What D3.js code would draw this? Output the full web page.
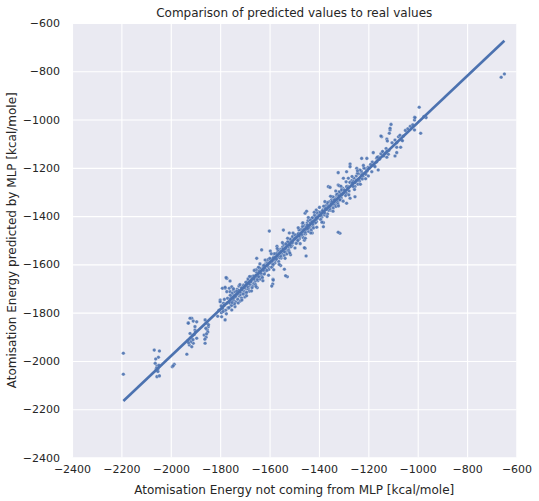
<!DOCTYPE html>
<html>
<head>
<meta charset="utf-8">
<script src="https://cdn.jsdelivr.net/npm/d3@7"></script>
<style>
  html, body { margin: 0; padding: 0; background: #ffffff; }
  svg { display: block; font-family: "DejaVu Sans", sans-serif; }
</style>
</head>
<body>
<div id="chart"></div>
<script>
// [real energy, predicted energy] pairs, grouped by region
const farOutliers = [
  [-2192,-1968],[-2192,-2055],[-662,-825],[-649,-811]
];

const cluster2050 = [
  [-2067,-1955],[-2046,-1959],[-2050,-1985],[-2061,-1992],[-2063,-2010],[-2056,-2021],
  [-2050,-2026],[-2058,-2030],[-2053,-2035],[-2048,-2018],[-2056,-2065],[-2046,-2062],
  [-2060,-2040],[-2052,-2044],[-1994,-2024],[-1986,-2014],[-1990,-2020]
];

const cluster1900 = [
  [-1929,-1842],[-1915,-1823],[-1909,-1835],[-1895,-1838],[-1922,-1886],[-1915,-1906],
  [-1909,-1927],[-1925,-1934],[-1915,-1941],[-1935,-1972],[-1902,-1872],[-1895,-1906],
  [-1930,-1915],[-1920,-1905],[-1912,-1895],[-1905,-1890],[-1918,-1920],[-1900,-1880],
  [-1928,-1925],[-1910,-1912],[-1922,-1823],[-1929,-1844],[-1902,-1858],
  [-1861,-1830],[-1854,-1844],[-1848,-1858],[-1865,-1893],[-1857,-1902],[-1861,-1927],
  [-1852,-1872],[-1858,-1865],[-1850,-1880],[-1862,-1910],[-1855,-1888],[-1847,-1850]
];

const cluster1780 = [
  [-1800,-1748],[-1787,-1761],[-1794,-1817],[-1780,-1830],[-1773,-1658],[-1780,-1699],
  [-1773,-1713],[-1760,-1713],[-1747,-1706],[-1760,-1761],[-1753,-1789],[-1740,-1775],
  [-1767,-1782],[-1790,-1785],[-1785,-1770],[-1778,-1790],[-1772,-1760],[-1768,-1780],
  [-1795,-1800],[-1805,-1790],[-1810,-1815],[-1791,-1699],[-1780,-1695],[-1763,-1699],
  [-1753,-1693],[-1776,-1655],[-1760,-1669],[-1800,-1755],[-1796,-1772],[-1788,-1795],
  [-1783,-1745],[-1775,-1805],[-1770,-1740]
];

const band1700 = [
  [-1757,-1741],[-1731,-1703],[-1749,-1766],[-1703,-1712],[-1722,-1731],[-1688,-1668],
  [-1744,-1729],[-1713,-1739],[-1695,-1701],[-1737,-1755],[-1726,-1708],[-1683,-1691],
  [-1751,-1719],[-1709,-1694],[-1719,-1752],[-1740,-1714],[-1698,-1720],[-1686,-1702],
  [-1761,-1758],[-1729,-1744],[-1705,-1686],[-1716,-1716],[-1747,-1749],[-1692,-1680],
  [-1734,-1727],[-1700,-1735],[-1755,-1771],[-1711,-1705],[-1724,-1690],[-1681,-1711],
  [-1742,-1763],[-1690,-1693],[-1718,-1725],[-1753,-1736],[-1707,-1723],[-1733,-1711],
  [-1696,-1674],[-1745,-1740],[-1727,-1760],[-1685,-1679],[-1714,-1698],[-1738,-1733],
  [-1701,-1697],[-1759,-1728],[-1721,-1715],[-1693,-1716],[-1746,-1701],[-1712,-1748],
  [-1730,-1722],[-1687,-1660],[-1764,-1779],[-1720,-1684],[-1699,-1690],[-1752,-1758]
];

const band1640 = [
  [-1677,-1669],[-1652,-1633],[-1668,-1690],[-1641,-1646],[-1660,-1651],[-1615,-1597],
  [-1673,-1655],[-1628,-1641],[-1647,-1668],[-1605,-1610],[-1664,-1679],[-1636,-1618],
  [-1619,-1630],[-1656,-1645],[-1610,-1588],[-1671,-1697],[-1643,-1626],[-1624,-1612],
  [-1658,-1670],[-1603,-1621],[-1633,-1650],[-1666,-1648],[-1613,-1603],[-1649,-1655],
  [-1626,-1607],[-1638,-1661],[-1679,-1682],[-1608,-1595],[-1654,-1622],[-1621,-1640],
  [-1645,-1640],[-1662,-1663],[-1631,-1625],[-1617,-1620],[-1670,-1660],[-1640,-1615],
  [-1601,-1594],[-1657,-1684],[-1635,-1637],[-1611,-1625],[-1676,-1650],[-1623,-1604],
  [-1650,-1663],[-1629,-1655],[-1606,-1580],[-1652,-1575],[-1632,-1540],[-1650,-1697],
  [-1673,-1710],[-1645,-1612]
];

const band1550 = [
  [-1597,-1588],[-1571,-1560],[-1588,-1607],[-1544,-1549],[-1562,-1552],[-1512,-1497],
  [-1583,-1570],[-1531,-1540],[-1553,-1574],[-1506,-1509],[-1578,-1594],[-1538,-1520],
  [-1520,-1529],[-1566,-1548],[-1503,-1481],[-1592,-1612],[-1547,-1528],[-1525,-1513],
  [-1560,-1573],[-1509,-1522],[-1535,-1550],[-1574,-1555],[-1515,-1504],[-1551,-1556],
  [-1528,-1508],[-1541,-1563],[-1594,-1580],[-1517,-1495],[-1557,-1538],[-1523,-1541],
  [-1549,-1543],[-1568,-1569],[-1533,-1526],[-1519,-1520],[-1586,-1575],[-1543,-1517],
  [-1501,-1493],[-1563,-1588],[-1537,-1538],[-1513,-1527],[-1581,-1556],[-1526,-1506],
  [-1555,-1566],[-1530,-1557],[-1507,-1485],[-1590,-1596],[-1565,-1541],[-1546,-1536],
  [-1521,-1548],[-1576,-1583],[-1540,-1548],[-1511,-1512],[-1558,-1553],[-1585,-1600],
  [-1534,-1515],[-1599,-1575],
  [-1601,-1462],[-1544,-1458],[-1528,-1651],[-1587,-1681],[-1586,-1662],[-1540,-1620],
  [-1535,-1647],[-1585,-1665],[-1591,-1690],[-1597,-1545],[-1570,-1525],[-1555,-1605],
  [-1515,-1560],[-1520,-1470]
];

const band1450 = [
  [-1496,-1489],[-1472,-1459],[-1488,-1506],[-1445,-1449],[-1463,-1453],[-1413,-1398],
  [-1483,-1471],[-1432,-1441],[-1454,-1474],[-1406,-1410],[-1479,-1494],[-1438,-1421],
  [-1421,-1430],[-1467,-1449],[-1403,-1382],[-1492,-1513],[-1448,-1429],[-1426,-1414],
  [-1461,-1474],[-1410,-1423],[-1436,-1451],[-1475,-1456],[-1416,-1405],[-1452,-1457],
  [-1429,-1409],[-1442,-1464],[-1494,-1481],[-1418,-1396],[-1458,-1439],[-1424,-1442],
  [-1450,-1444],[-1469,-1470],[-1434,-1427],[-1420,-1421],[-1486,-1476],[-1444,-1418],
  [-1401,-1394],[-1464,-1489],[-1439,-1439],[-1414,-1428],[-1481,-1457],[-1427,-1407],
  [-1456,-1467],[-1431,-1458],[-1408,-1386],[-1490,-1497],[-1466,-1442],[-1447,-1437],
  [-1422,-1449],[-1477,-1484],[-1441,-1449],[-1412,-1413],[-1459,-1454],[-1485,-1501],
  [-1435,-1416],[-1499,-1476],[-1470,-1478],[-1425,-1433],
  [-1456,-1533],[-1452,-1565],[-1459,-1531],[-1456,-1388],[-1450,-1380],[-1467,-1430],
  [-1459,-1500],[-1427,-1470],[-1411,-1375]
];

const band1350 = [
  [-1397,-1392],[-1371,-1360],[-1389,-1405],[-1346,-1352],[-1364,-1356],[-1313,-1300],
  [-1384,-1374],[-1333,-1344],[-1354,-1376],[-1306,-1312],[-1378,-1395],[-1339,-1323],
  [-1322,-1333],[-1367,-1351],[-1303,-1285],[-1393,-1414],[-1349,-1332],[-1327,-1317],
  [-1361,-1376],[-1310,-1325],[-1336,-1353],[-1375,-1358],[-1316,-1307],[-1352,-1359],
  [-1329,-1311],[-1342,-1366],[-1395,-1384],[-1318,-1299],[-1358,-1341],[-1324,-1344],
  [-1351,-1346],[-1369,-1372],[-1334,-1329],[-1320,-1323],[-1386,-1378],[-1344,-1320],
  [-1301,-1296],[-1365,-1391],[-1340,-1341],[-1315,-1330],[-1381,-1359],[-1326,-1309],
  [-1356,-1369],[-1331,-1360],[-1308,-1288],[-1391,-1399],[-1366,-1344],[-1347,-1339],
  [-1323,-1351],[-1377,-1386],
  [-1382,-1444],[-1382,-1427],[-1362,-1278],[-1322,-1271],[-1315,-1471],[-1322,-1467],
  [-1355,-1281],[-1318,-1274],[-1308,-1292],[-1315,-1333]
];

const band1250 = [
  [-1297,-1292],[-1271,-1263],[-1289,-1306],[-1246,-1254],[-1264,-1258],[-1213,-1203],
  [-1284,-1276],[-1233,-1246],[-1254,-1277],[-1206,-1214],[-1278,-1296],[-1239,-1225],
  [-1222,-1235],[-1267,-1253],[-1292,-1315],[-1249,-1234],[-1227,-1219],[-1261,-1278],
  [-1210,-1227],[-1236,-1255],[-1275,-1260],[-1252,-1261],[-1229,-1213],[-1242,-1268],
  [-1218,-1201],[-1258,-1243],[-1224,-1246],[-1286,-1280],[-1244,-1222],[-1201,-1198],
  [-1274,-1184],[-1274,-1195],[-1322,-1220],[-1288,-1216],[-1234,-1209],[-1247,-1202],
  [-1227,-1230],[-1200,-1234],[-1281,-1243],[-1261,-1257],[-1240,-1250],[-1301,-1243],
  [-1288,-1278],[-1254,-1320],[-1274,-1326],[-1288,-1347],[-1227,-1161],[-1206,-1161]
];

const band1100 = [
  [-1197,-1202],[-1184,-1176],[-1176,-1191],[-1166,-1160],[-1155,-1164],[-1143,-1133],
  [-1137,-1151],[-1128,-1120],[-1117,-1128],[-1104,-1096],[-1191,-1186],[-1170,-1178],
  [-1149,-1142],[-1125,-1131],
  [-1180,-1137],[-1142,-1133],[-1160,-1154],[-1166,-1175],[-1186,-1216],[-1160,-1209],
  [-1173,-1195],[-1164,-1156],[-1132,-1140],[-1119,-1144],[-1125,-1156],[-1146,-1071],
  [-1125,-1081],[-1123,-1089],[-1108,-1020],[-1112,-1043],[-1115,-1057],[-1112,-1036],
  [-1149,-1068],
  [-1092,-1085],[-1085,-1096],[-1078,-1071],[-1072,-1065],[-1065,-1085],[-1058,-1068],
  [-1085,-1115],[-1069,-1115],[-1085,-1137],[-1092,-1151],[-1062,-1088],[-1050,-1045],
  [-1040,-1038],[-1030,-1028],[-1020,-1022],[-994,-949],[-1013,-991],[-1013,-1002],
  [-970,-988],[-966,-992],[-1013,-1043],[-988,-1057],[-1011,-992],[-975,-988]
];

// extra points filling out the widest, densest part of the band
const bandEdges = [
  [-1693,-1730],[-1681,-1650],[-1662,-1625],[-1655,-1692],[-1639,-1598],[-1627,-1668],
  [-1618,-1582],[-1604,-1645],[-1593,-1556],[-1583,-1622],[-1569,-1534],[-1561,-1600],
  [-1548,-1510],[-1537,-1575],[-1527,-1492],[-1518,-1553],[-1505,-1470],[-1497,-1532],
  [-1484,-1448],[-1476,-1514],[-1465,-1428],[-1455,-1492],[-1443,-1406],[-1433,-1470],
  [-1419,-1384],[-1409,-1446],[-1398,-1364],[-1388,-1425],[-1376,-1340],[-1367,-1402],
  [-1353,-1318],[-1343,-1380],[-1332,-1296],[-1321,-1358],[-1311,-1276],[-1302,-1338],
  [-1290,-1258],[-1279,-1312],[-1266,-1236],[-1256,-1290],[-1244,-1212],[-1232,-1268],
  [-1220,-1190],[-1211,-1245],
  [-1675,-1672],[-1663,-1659],[-1644,-1651],[-1625,-1624],[-1609,-1603],[-1589,-1586],
  [-1572,-1578],[-1554,-1547],[-1536,-1533],[-1516,-1521],[-1498,-1493],[-1480,-1482],
  [-1462,-1458],[-1446,-1452],[-1428,-1424],[-1411,-1407],[-1393,-1396],[-1374,-1369],
  [-1357,-1360],[-1338,-1333],[-1319,-1316],[-1301,-1305],[-1283,-1284],[-1265,-1262],
  [-1248,-1252]
];

const xTicks = [-2400,-2200,-2000,-1800,-1600,-1400,-1200,-1000,-800,-600];
const yTicks = [-2400,-2200,-2000,-1800,-1600,-1400,-1200,-1000,-800,-600];

const titleText = 'Comparison of predicted values to real values';
const xLabel = 'Atomisation Energy not coming from MLP [kcal/mole]';
const yLabel = 'Atomisation Energy predicted by MLP [kcal/mole]';

const points = [].concat(farOutliers, cluster2050, cluster1900, cluster1780,
  band1700, band1640, band1550, band1450, band1350, band1250, band1100, bandEdges);

const width = 539, height = 501;
const margin = {top: 23, right: 22.5, bottom: 43.5, left: 72};
const blue = '#4c72b0';

const svg = d3.select('#chart').append('svg')
  .attr('width', width)
  .attr('height', height);

const xScale = d3.scaleLinear().domain([-2400, -600])
  .range([margin.left, width - margin.right]);
const yScale = d3.scaleLinear().domain([-2400, -600])
  .range([height - margin.bottom, margin.top]);

// seaborn darkgrid background
svg.append('rect')
  .attr('x', margin.left)
  .attr('y', margin.top)
  .attr('width', width - margin.left - margin.right)
  .attr('height', height - margin.top - margin.bottom)
  .attr('fill', '#eaeaf2');

// grid lines + tick labels from the axes, no spines
const fmt = d3.format('d');
const xAxis = svg.append('g')
  .attr('transform', `translate(0,${height - margin.bottom})`)
  .call(d3.axisBottom(xScale).tickValues(xTicks).tickFormat(fmt)
    .tickSize(-(height - margin.top - margin.bottom)).tickPadding(8));
const yAxis = svg.append('g')
  .attr('transform', `translate(${margin.left},0)`)
  .call(d3.axisLeft(yScale).tickValues(yTicks).tickFormat(fmt)
    .tickSize(-(width - margin.left - margin.right)).tickPadding(12));

[xAxis, yAxis].forEach(g => {
  g.select('.domain').remove();
  g.selectAll('.tick line').attr('stroke', '#ffffff').attr('stroke-width', 1.1);
  g.selectAll('.tick text')
    .attr('fill', '#262626')
    .attr('font-size', 11)
    .attr('font-family', '"DejaVu Sans", sans-serif');
});

// scatter
svg.append('g')
  .selectAll('circle')
  .data(points)
  .enter()
  .append('circle')
    .attr('cx', d => xScale(d[0]))
    .attr('cy', d => yScale(d[1]))
    .attr('r', 1.8)
    .attr('fill', blue)
    .attr('fill-opacity', 0.9)
    .attr('stroke', '#ffffff')
    .attr('stroke-width', 0.25);

// least squares fit, drawn across the x range of the data like regplot
const mx = d3.mean(points, d => d[0]);
const my = d3.mean(points, d => d[1]);
const slope = d3.sum(points, d => (d[0] - mx) * (d[1] - my)) /
  d3.sum(points, d => (d[0] - mx) * (d[0] - mx));
const intercept = my - slope * mx;
const [xMin, xMax] = d3.extent(points, d => d[0]);

svg.append('line')
  .attr('x1', xScale(xMin))
  .attr('y1', yScale(slope * xMin + intercept))
  .attr('x2', xScale(xMax))
  .attr('y2', yScale(slope * xMax + intercept))
  .attr('stroke', blue)
  .attr('stroke-width', 2.6)
  .attr('stroke-linecap', 'butt');

// title and labels
svg.append('text')
  .attr('x', (margin.left + width - margin.right) / 2)
  .attr('y', 17)
  .attr('text-anchor', 'middle')
  .attr('font-size', 12)
  .attr('fill', '#262626')
  .text(titleText);

svg.append('text')
  .attr('x', (margin.left + width - margin.right) / 2)
  .attr('y', 494)
  .attr('text-anchor', 'middle')
  .attr('font-size', 12)
  .attr('fill', '#262626')
  .text(xLabel);

svg.append('text')
  .attr('transform', `translate(16,${(margin.top + height - margin.bottom) / 2}) rotate(-90)`)
  .attr('text-anchor', 'middle')
  .attr('font-size', 12)
  .attr('fill', '#262626')
  .text(yLabel);
</script>
</body>
</html>
